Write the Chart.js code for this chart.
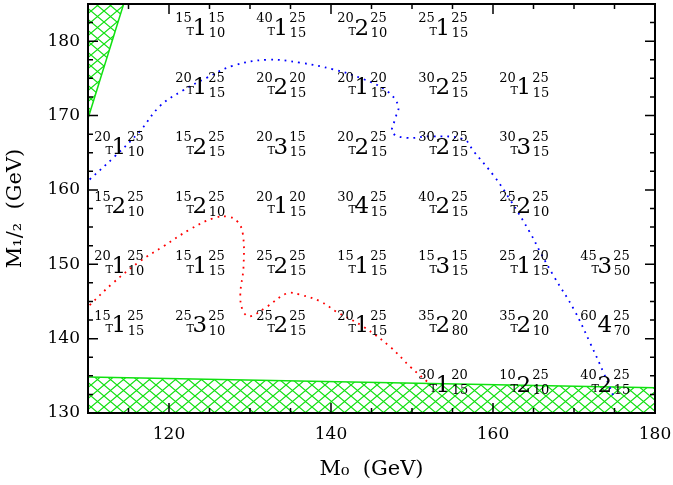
<!DOCTYPE html>
<html>
<head>
<meta charset="utf-8">
<script src="https://cdn.jsdelivr.net/npm/chart.js@4"></script>
<style>
html,body{margin:0;padding:0;background:#fff;}
#wrap{width:673px;height:485px;position:relative;}
</style>
</head>
<body>
<div id="wrap"><canvas id="c" width="673" height="485"></canvas></div>
<script>
// ---- data ----
const xTicks = [120, 140, 160, 180];
const yTicks = [130, 140, 150, 160, 170, 180];

const blueX = [110.2,113.3,116.4,118.9,121.6,124.7,127.9,132.1,136.2,140.3,144.0,146.9,148.3,147.9,147.6,149.4,152.3,156.4,157.6,160.1,162.1,164.6,165.9,167.5,170.0,172.0,173.7,174.9];
const blueY = [161.4,164.5,167.9,171.3,173.3,175.1,176.7,177.5,177.1,176.2,174.9,173.3,171.3,169.5,167.7,167.0,167.2,166.8,165.2,161.9,158.7,154.2,151.5,148.4,143.9,139.4,135.3,132.2];

const redX = [110.2,113.1,116.4,119.3,122.6,125.5,127.3,128.4,129.1,129.2,128.8,129.2,130.0,132.1,134.6,136.2,138.7,140.7,144.0,147.3,149.8,151.9];
const redY = [144.5,147.5,150.4,152.4,154.7,156.2,156.4,155.8,154.2,149.7,145.7,143.6,143.0,144.3,146.1,145.9,145.0,143.6,141.6,138.9,136.2,134.2];

const topExclX = [110, 114.4];
const topExclY = [169.6, 185];
const bottomExclX = [110, 180];
const bottomExclY = [134.85, 133.4];

// labels: position (M0, M1/2), upper-left, lower-left, main digit, upper-right, lower-right
const labM0  = [123.8,133.8,143.8,153.8, 123.8,133.8,143.8,153.8,163.8, 113.8,123.8,133.8,143.8,153.8,163.8, 113.8,123.8,133.8,143.8,153.8,163.8, 113.8,123.8,133.8,143.8,153.8,163.8,173.8, 113.8,123.8,133.8,143.8,153.8,163.8,173.8, 153.8,163.8,173.8];
const labM12 = [182,182,182,182, 174,174,174,174,174, 166,166,166,166,166,166, 158,158,158,158,158,158, 150,150,150,150,150,150,150, 142,142,142,142,142,142,142, 134,134,134];
const labUL  = ['15','40','20','25', '20','20','20','30','20', '20','15','20','20','30','30', '15','15','20','30','40','25', '20','15','25','15','15','25','45', '15','25','25','20','35','35','60', '30','10','40'];
const labLL  = ['T','T','T','T', 'T','T','T','T','T', 'T','T','T','T','T','T', 'T','T','T','T','T','T', 'T','T','T','T','T','T','T', 'T','T','T','T','T','T','', 'T','T','T'];
const labMain= ['1','1','2','1', '1','2','1','2','1', '1','2','3','2','2','3', '2','2','1','4','2','2', '1','1','2','1','3','1','3', '1','3','2','1','2','2','4', '1','2','2'];
const labUR  = ['15','25','25','25', '25','20','20','25','25', '25','25','15','25','25','25', '25','25','20','25','25','25', '25','25','25','25','15','20','25', '25','25','25','25','20','20','25', '20','25','25'];
const labLR  = ['10','15','10','15', '15','15','15','15','15', '10','15','15','15','15','15', '10','10','15','15','15','10', '10','15','15','15','15','15','50', '15','10','15','15','80','10','70', '15','10','15'];

// ---- helpers ----
const SERIF = '"DejaVu Serif", "Liberation Serif", serif';
function pts(xs, ys){ return xs.map((x,i)=>({x:x, y:ys[i]})); }
function hatch(){
  const w=13, h=11;
  const c=document.createElement('canvas'); c.width=w; c.height=h;
  const g=c.getContext('2d');
  g.strokeStyle='#10e010'; g.lineWidth=1.2;
  g.beginPath();
  g.moveTo(-1.3,-1.1); g.lineTo(w+1.3,h+1.1);
  g.moveTo(w+1.3,-1.1); g.lineTo(-1.3,h+1.1);
  g.stroke();
  return g.createPattern(c,'repeat');
}
const hatchPat = hatch();

const overlay = {
  id:'overlay',
  afterDatasetsDraw(chart){
    const ctx=chart.ctx, xs=chart.scales.x, ys=chart.scales.y;
    ctx.save();
    ctx.fillStyle='#000';
    ctx.textBaseline='alphabetic';
    for(let i=0;i<labM0.length;i++){
      const cx=xs.getPixelForValue(labM0[i]);
      const cy=ys.getPixelForValue(labM12[i]);
      ctx.font='23px '+SERIF; ctx.textAlign='center';
      ctx.fillText(labMain[i], cx, cy+8.5);
      ctx.font='13px '+SERIF; ctx.textAlign='right';
      ctx.fillText(labUL[i], cx-8, cy-4);
      ctx.font='11px '+SERIF;
      if(labLL[i]) ctx.fillText(labLL[i], cx-6, cy+8.5);
      ctx.font='13px '+SERIF; ctx.textAlign='left';
      ctx.fillText(labUR[i], cx+8.5, cy-4);
      ctx.fillText(labLR[i], cx+9, cy+11);
    }
    ctx.restore();
  },
  afterDraw(chart){
    const ctx=chart.ctx, xs=chart.scales.x, ys=chart.scales.y, a=chart.chartArea;
    ctx.save();
    ctx.strokeStyle='#000';
    ctx.lineWidth=1.5;
    ctx.beginPath();
    for(let v=110; v<=180; v+=5){
      const px=xs.getPixelForValue(v);
      const L = (v%20===0)?10:5;
      ctx.moveTo(px,a.bottom); ctx.lineTo(px,a.bottom-L);
      ctx.moveTo(px,a.top); ctx.lineTo(px,a.top+L);
    }
    for(let v=130; v<=185; v+=2.5){
      const py=ys.getPixelForValue(v);
      const L = (v%10===0)?10:5;
      ctx.moveTo(a.left,py); ctx.lineTo(a.left+L,py);
      ctx.moveTo(a.right,py); ctx.lineTo(a.right-L,py);
    }
    ctx.stroke();
    ctx.lineWidth=2;
    ctx.strokeRect(a.left,a.top,a.right-a.left,a.bottom-a.top);
    ctx.restore();
  }
};

new Chart(document.getElementById('c'), {
  type:'scatter',
  data:{
    datasets:[
      {data:pts(blueX,blueY), showLine:true, borderColor:'#0000ff', borderWidth:1.8, borderDash:[1.8,5], pointRadius:0, tension:0.4, fill:false},
      {data:pts(redX,redY), showLine:true, borderColor:'#ff0000', borderWidth:1.8, borderDash:[1.8,5], pointRadius:0, tension:0.4, fill:false},
      {data:pts(topExclX,topExclY), showLine:true, borderColor:'#10e010', borderWidth:1.5, pointRadius:0, fill:'end', backgroundColor:hatchPat},
      {data:pts(bottomExclX,bottomExclY), showLine:true, borderColor:'#10e010', borderWidth:1.5, pointRadius:0, fill:'start', backgroundColor:hatchPat}
    ]
  },
  options:{
    responsive:false,
    animation:false,
    layout:{padding:{top:4,right:18,left:0,bottom:0}},
    plugins:{legend:{display:false}, tooltip:{enabled:false}},
    scales:{
      x:{
        type:'linear', min:110, max:180,
        afterBuildTicks:s=>{ s.ticks = xTicks.map(v=>({value:v})); },
        afterFit:s=>{ s.height = 72; s.paddingLeft = 0; s.paddingRight = 0; },
        grid:{display:false, drawTicks:false},
        border:{display:false},
        ticks:{color:'#000', font:{family:SERIF, size:17}, padding:11, maxRotation:0},
        title:{display:true, text:'M₀  (GeV)', color:'#000', font:{family:SERIF, size:21}, padding:{top:3,bottom:3}}
      },
      y:{
        type:'linear', min:130, max:185,
        afterBuildTicks:s=>{ s.ticks = yTicks.map(v=>({value:v})); },
        afterFit:s=>{ s.width = 88; s.paddingTop = 0; s.paddingBottom = 0; },
        grid:{display:false, drawTicks:false},
        border:{display:false},
        ticks:{color:'#000', font:{family:SERIF, size:17}, padding:8},
        title:{display:true, text:'M₁/₂  (GeV)', color:'#000', font:{family:SERIF, size:21}, padding:{top:3,bottom:3}}
      }
    }
  },
  plugins:[overlay]
});
</script>
</body>
</html>
